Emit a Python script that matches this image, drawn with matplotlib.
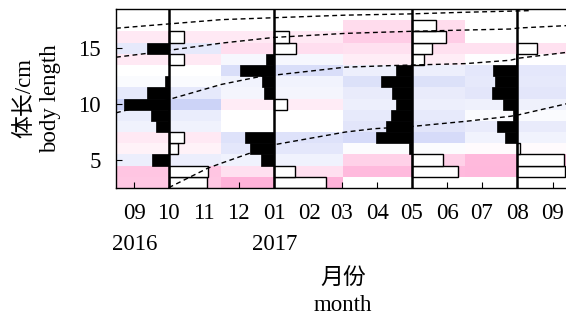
import matplotlib
matplotlib.use("Agg")
import matplotlib.pyplot as plt
import matplotlib.dates as mdates
from matplotlib.colors import LinearSegmentedColormap, Normalize
import numpy as np
import pandas as pd

plt.rcParams['font.family'] = ['Liberation Serif', 'Noto Sans CJK SC']

# sampling dates and length classes (cm, bin centres)
sample_dates = pd.to_datetime(["2016-10-01", "2017-01-01", "2017-05-01", "2017-08-01"])
length_bins = np.arange(3, 19)

# restructured scores per length class 3..18 (positive = black, negative = white)
scores_oct = [-3.8, -3.9, 1.7, -0.9, -1.5, 1.3, 1.8, 4.5, 2.2, 0.4, 0.0, -1.5, 2.2, -1.5, 0.0, 0.0]
scores_jan = [-5.2, -2.1, 1.3, 2.4, 2.9, 0.0, 0.0, -1.3, 1.0, 1.2, 3.4, 0.8, -2.2, -1.5, 0.0, 0.0]
scores_may = [0.0, -4.6, -3.1, 0.3, 3.6, 2.6, 2.1, 1.6, 2.0, 3.1, 1.6, -1.2, -2.0, -3.4, -2.4, 0.0]
scores_aug = [0.0, -4.8, -4.7, -0.3, 1.2, 2.0, 0.4, 1.4, 2.5, 2.2, 2.4, 0.1, -2.0, 0.0, 0.0, 0.0]

# growth curves (cohorts)
curve_a_dates = ["2016-08-16", "2016-11-16", "2017-03-04", "2017-04-29", "2017-06-17", "2017-08-11"]
curve_a_len = [16.78, 17.55, 17.95, 18.06, 18.21, 18.35]
curve_b_dates = ["2016-08-16", "2016-09-11", "2016-10-02", "2016-11-16", "2017-01-01", "2017-03-04",
                 "2017-04-29", "2017-06-17", "2017-07-26", "2017-08-02", "2017-09-16"]
curve_b_len = [14.19, 14.52, 14.82, 15.45, 15.96, 16.32, 16.50, 16.62, 16.71, 16.80, 17.03]
curve_c_dates = ["2016-08-16", "2016-10-01", "2016-11-16", "2016-12-22", "2017-01-02", "2017-03-04",
                 "2017-04-16", "2017-06-17", "2017-07-26", "2017-08-02", "2017-09-16"]
curve_c_len = [9.22, 10.41, 11.76, 12.51, 12.60, 13.30, 13.45, 13.62, 13.92, 14.10, 14.66]
curve_d_dates = ["2016-10-01", "2016-11-04", "2016-11-16", "2016-12-11", "2017-01-01", "2017-03-04",
                 "2017-03-29", "2017-05-01", "2017-06-17", "2017-07-26", "2017-08-03", "2017-09-16"]
curve_d_len = [2.53, 4.27, 4.72, 5.62, 6.37, 7.50, 7.80, 8.00, 8.46, 8.91, 9.06, 10.10]

tick_months = pd.date_range("2016-09-01", "2017-09-01", freq="MS")
tick_labels = ["09\n2016", "10", "11", "12", "01\n2017", "02", "03", "04",
               "05", "06", "07", "08", "09"]

scores = np.column_stack([scores_oct, scores_jan, scores_may, scores_aug])
xs = mdates.date2num(sample_dates)

# cell edges half-way between samples
mids = (xs[:-1] + xs[1:]) / 2
x_edges = np.concatenate([[xs[0] - (xs[1] - xs[0]) / 2], mids, [xs[-1] + (xs[-1] - xs[-2]) / 2]])
y_edges = np.append(length_bins - 0.5, length_bins[-1] + 0.5)

fig = plt.figure(figsize=(5.66, 3.18), dpi=100)
ax = fig.add_axes([116 / 566, 1 - 188 / 318, 454 / 566, 179 / 318])

cmap = LinearSegmentedColormap.from_list("pb", ["#FFACD6", "#FFFFFF", "#C0C8F5"])
ax.pcolormesh(x_edges, y_edges, scores, cmap=cmap, norm=Normalize(-5.6, 5.6), zorder=0)

day_per_unit = 8.7
for j, x in enumerate(xs):
    col = scores[:, j]
    for L, s in zip(length_bins, col):
        if s == 0:
            continue
        if s > 0:
            ax.barh(L, -s * day_per_unit, left=x, height=1, color="black",
                    edgecolor="black", linewidth=0.5, zorder=2)
        else:
            ax.barh(L, -s * day_per_unit, left=x, height=1, color="white",
                    edgecolor="black", linewidth=1.0, zorder=2)
    ax.axvline(x, color="black", lw=1.8, zorder=3)

for d, l in [(curve_a_dates, curve_a_len), (curve_b_dates, curve_b_len),
             (curve_c_dates, curve_c_len), (curve_d_dates, curve_d_len)]:
    ax.plot(pd.to_datetime(d), l, color="black", lw=1.0, ls=(0, (3.5, 2.5)), zorder=4)

ax.set_xlim(x_edges[0], x_edges[-1])
ax.set_ylim(y_edges[0], y_edges[-1])
ax.set_xticks(mdates.date2num(tick_months))
ax.set_xticklabels(tick_labels, linespacing=1.65)
ax.set_yticks([5, 10, 15])
ax.tick_params(axis="both", direction="in", length=4, width=0.8, labelsize=16.5)
ax.tick_params(axis="x", pad=10.5)
ax.tick_params(axis="y", pad=11)
for sp in ax.spines.values():
    sp.set_linewidth(1.0)

ax.set_ylabel("体长/cm\nbody length", fontsize=16.5, linespacing=1.22, ha="center", va="center")
ax.yaxis.set_label_coords(-0.172, 0.5)
ax.set_xlabel("月份\nmonth", fontsize=16.5, linespacing=1.33, ha="center", va="center")
ax.xaxis.set_label_coords(0.5, -0.585)

fig.savefig("out.png", dpi=100)
